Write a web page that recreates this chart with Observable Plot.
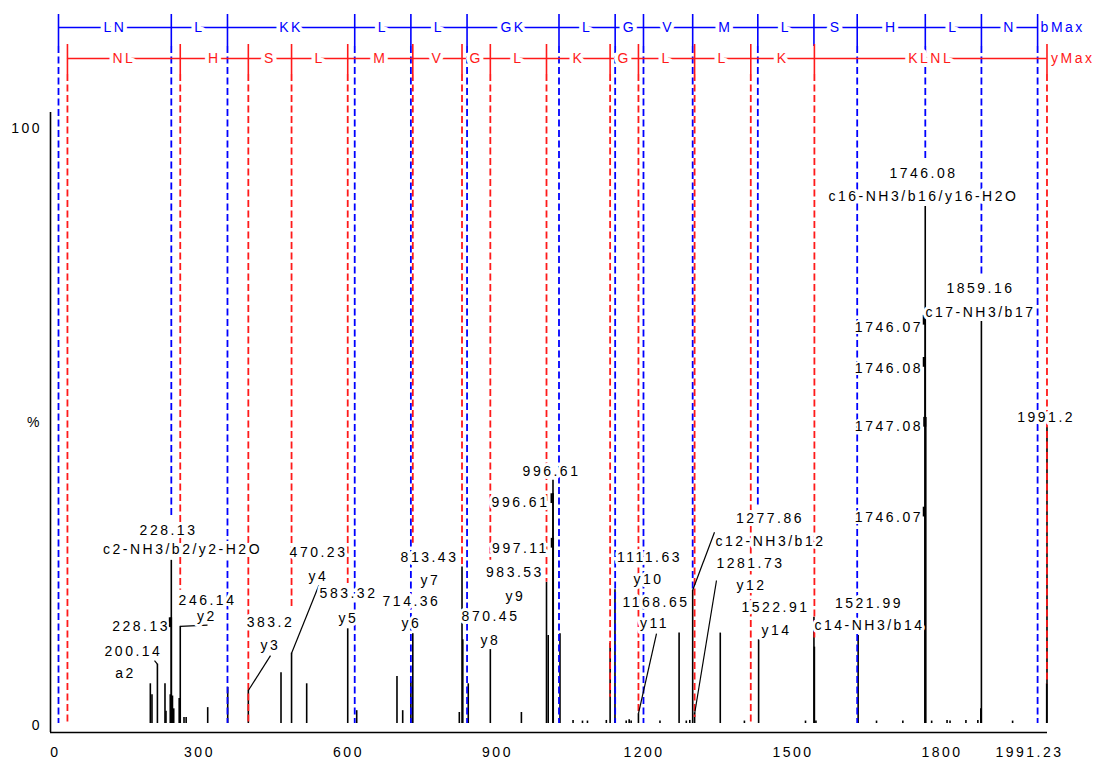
<!DOCTYPE html>
<html><head><meta charset="utf-8">
<script src="https://cdn.jsdelivr.net/npm/d3@7"></script>
<script src="https://cdn.jsdelivr.net/npm/@observablehq/plot@0.6"></script>
<style>
html,body{margin:0;padding:0;background:#fff;}
#chart svg text{letter-spacing:2.5px;}
</style></head><body><div id="chart"></div>
<script>
// ---- spectrum peaks (m/z, relative intensity %) ----
const peakMz = [185.9, 189.2, 200.14, 215.4, 217.4, 226.0, 228.13, 228.13, 230.5, 233.0, 244.0, 246.14, 253.7, 258.0, 301.4, 341.7, 383.2, 449.0, 470.23, 500.7, 583.32, 601.4, 682.5, 694.0, 710.5, 714.36, 808.0, 813.43, 815.0, 826.0, 870.45, 933.0, 983.53, 987.0, 996.61, 996.61, 997.11, 1010.7, 1037, 1056, 1066, 1104, 1111.63, 1121.4, 1144, 1150, 1154, 1168.65, 1212, 1250.5, 1265, 1272, 1277.86, 1281.73, 1333.4, 1382, 1410.6, 1505, 1521.99, 1522.91, 1526, 1611, 1648, 1701, 1746.08, 1746.07, 1746.08, 1747.08, 1746.07, 1759, 1790, 1796, 1828, 1852, 1858.0, 1859.16, 1922, 1990.6, 1991.2];
const peakInt = [6.5, 4.7, 9.7, 6.5, 2.0, 4.7, 17.3, 26.7, 4.5, 2.4, 4.1, 15.9, 1.0, 1.0, 2.6, 5.9, 5.4, 8.3, 11.5, 6.5, 15.5, 2.1, 7.7, 2.1, 6.8, 14.7, 1.8, 25.6, 13.7, 6.5, 12.1, 1.8, 23.1, 14.4, 39.8, 37.6, 30.3, 14.7, 0.5, 0.4, 0.4, 0.5, 13.1, 21.9, 0.4, 0.6, 0.4, 1.6, 0.4, 14.8, 0.4, 0.5, 21.8, 1.7, 14.8, 0.4, 13.7, 0.4, 17.4, 12.5, 0.4, 14.4, 0.4, 0.4, 84.6, 66.8, 59.9, 50.1, 35.4, 0.4, 0.5, 0.4, 0.5, 0.5, 2.4, 65.8, 0.4, 6.5, 48.5];

// sub-peaks marked with a short bold tick on the line
const markMz  = [228.13, 996.61, 997.11, 1746.07, 1746.08, 1747.08, 1746.07];
const markInt = [17.3, 37.6, 30.3, 66.8, 59.9, 50.1, 35.4];

// ---- fragment ladders ----
const bIons = [1.01, 228.13, 341.22, 597.41, 710.49, 823.58, 1008.70, 1121.78, 1178.80, 1277.87, 1409.0, 1522.0, 1609.1, 1746.2, 1859.2, 1972.3];
const bResidues = ["LN","L","KK","L","L","GK","L","G","V","M","L","S","H","L","N"];
const bDashEnd = [0, 33.7, 0, 0, 0, 0, 0, 0, 0, 21.8, 35.4, null, 0, 92.0, 73.3, 0];
const yIons = [19.02, 246.14, 383.2, 470.23, 583.32, 714.36, 813.43, 870.45, 983.53, 1111.63, 1168.65, 1281.73, 1394.82, 1522.91, 1991.2];
const yResidues = ["NL","H","S","L","M","V","G","L","K","G","L","L","K","KLNL"];
const yDashEnd = [0, 21.8, 0, 18.8, 22.9, 29.5, 25.6, 26.7, 23.1, 4.3, 1.6, 1.0, 0, 13.6, 6.5];

// ---- peak annotations ----
const labelText = ["228.13","c2-NH3/b2/y2-H2O","246.14","y2","200.14","a2","383.2","y3","470.23","y4","583.32","y5","714.36","y6","813.43","y7","870.45","y8","983.53","y9","997.11","996.61","996.61","1111.63","y10","1168.65","y11","1277.86","c12-NH3/b12","1281.73","y12","1522.91","y14","1521.99","c14-NH3/b14","1746.08","c16-NH3/b16/y16-H2O","1859.16","c17-NH3/b17","1991.2"];
const labelMz   = [222.5, 250.7, 301.0, 300.0, 152.0, 135.9, 427.8, 427.8, 524.5, 524.5, 584.9, 584.9, 711.7, 711.7, 748.0, 750.0, 870.8, 870.8, 920.1, 921.1, 931.2, 931.2, 993.6, 1190.9, 1188.9, 1204.0, 1201.0, 1433.5, 1434.5, 1394.2, 1396.2, 1444.6, 1446.6, 1632.8, 1633.8, 1742.5, 1742.5, 1857.3, 1857.3, 1989.5];
const labelPct  = [31.6, 28.5, 20.1, 17.5, 11.8, 8.2, 16.5, 12.8, 28.0, 24.1, 21.3, 17.2, 20.0, 16.4, 27.2, 23.4, 17.5, 13.6, 24.7, 20.8, 28.6, 36.2, 41.2, 27.2, 23.6, 19.8, 16.4, 33.6, 29.8, 26.2, 22.6, 19.0, 15.2, 19.6, 16.0, 90.0, 86.3, 71.2, 67.3, 50.1];
// right-aligned annotations beside a peak
const sideText = ["228.13","1746.07","1746.08","1747.08","1746.07"];
const sideMz   = [225.5, 1741.5, 1741.5, 1741.5, 1741.5];
const sidePct  = [15.9, 64.8, 58.1, 48.6, 33.7];

// leader lines from annotation to peak
const leadFromMz = [246.14, 194.3, 427.8, 525.1, 1205.0, 1321.8, 1325.8];
const leadFromPct = [15.9, 10.3, 11.1, 22.6, 14.7, 31.3, 23.4];
const leadToMz = [301.0, 200.14, 383.2, 470.23, 1168.65, 1277.86, 1281.73];
const leadToPct = [16.1, 9.7, 5.4, 11.5, 1.6, 21.8, 1.6];

// axes
const xTicks = [0, 300, 600, 900, 1200, 1500, 1800, 1991.23];
const xTickLabels = ["0","300","600","900","1200","1500","1800","1991.23"];
const yTicks = [0, 50, 100];
const yTickLabels = ["0","%","100"];
const yLabelDy = [2, 5, 16];

// ladder rows (in % units above the 100% top)
const LAD = {bLine: 113.91, bTop: 116.04, bBot: 110.80, yLine: 108.84, yTop: 111.13, yBot: 106.22};
const BLUE = "#0000ff", RED = "#ff1a1a";

const peaks = peakMz.map((mz, i) => ({mz, v: peakInt[i]}));
const marks = markMz.map((mz, i) => ({mz, v: markInt[i]}));
const bDash = bIons.map((mz, i) => ({mz, end: bDashEnd[i]})).filter(d => d.end != null);
const yDash = yIons.map((mz, i) => ({mz, end: yDashEnd[i]}));
const labels = labelText.map((t, i) => ({t, x: labelMz[i], y: labelPct[i]}));
const sides = sideText.map((t, i) => ({t, x: sideMz[i], y: sidePct[i]}));
const leaders = leadFromMz.map((m, i) => ({x1: m, y1: leadFromPct[i], x2: leadToMz[i], y2: leadToPct[i]}));
const dash = "7,3.5";
const halo = {stroke: "white", strokeWidth: 6, paintOrder: "stroke", strokeLinejoin: "round"};
const sideHalo = {stroke: "white", strokeWidth: 4, paintOrder: "stroke", strokeLinejoin: "round"};
const ladderHalo = {stroke: "white", strokeWidth: 8, paintOrder: "stroke", strokeLinejoin: "round"};

const chart = Plot.plot({
  width: 1097, height: 760,
  marginLeft: 50, marginRight: 50, marginTop: 112, marginBottom: 28,
  x: {domain: [0, 1991.23], range: [57.5, 1046.5], axis: null},
  y: {domain: [0, 100], range: [723, 112], axis: null},
  style: {fontFamily: "'Liberation Sans', Arial, sans-serif", fontSize: "14px", background: "white", overflow: "visible", color: "black"},
  marks: [
    // peaks
    Plot.ruleX(peaks, {x: "mz", y1: 0, y2: "v", stroke: "black", strokeWidth: 1.6}),
    // ladder drop lines
    Plot.ruleX(bDash, {x: "mz", y1: LAD.bBot, y2: "end", stroke: BLUE, strokeWidth: 1.8, strokeDasharray: dash}),
    Plot.ruleX(yDash, {x: "mz", y1: LAD.yBot, y2: "end", stroke: RED, strokeWidth: 1.8, strokeDasharray: dash}),
    // bold sub-peak ticks
    Plot.ruleX(marks, {x: "mz", y1: d => d.v - 1.6, y2: "v", stroke: "black", strokeWidth: 3, dx: -1}),
    // leaders
    Plot.link(leaders, {x1: "x1", y1: "y1", x2: "x2", y2: "y2", stroke: "black", strokeWidth: 1.2}),
    // annotations
    Plot.text(labels, {x: "x", y: "y", text: "t", fill: "black", textAnchor: "middle", ...halo}),
    Plot.text(sides, {x: "x", y: "y", text: "t", fill: "black", textAnchor: "end", ...sideHalo}),
    // b ladder
    Plot.ruleY([LAD.bLine], {y: d => d, x1: bIons[0], x2: bIons[bIons.length - 1], stroke: BLUE, strokeWidth: 1.6}),
    Plot.ruleX(bIons, {x: d => d, y1: LAD.bBot, y2: LAD.bTop, stroke: BLUE, strokeWidth: 1.6}),
    Plot.text(bResidues, {x: (d, i) => (bIons[i] + bIons[i + 1]) / 2, y: () => LAD.bLine, text: d => d, fill: BLUE, textAnchor: "middle", ...ladderHalo}),
    Plot.text(["bMax"], {x: () => bIons[bIons.length - 1], y: () => LAD.bLine, text: d => d, fill: BLUE, textAnchor: "start", dx: 3}),
    // y ladder
    Plot.ruleY([LAD.yLine], {y: d => d, x1: yIons[0], x2: yIons[yIons.length - 1], stroke: RED, strokeWidth: 1.6}),
    Plot.ruleX(yIons, {x: d => d, y1: LAD.yBot, y2: LAD.yTop, stroke: RED, strokeWidth: 1.6}),
    Plot.text(yResidues, {x: (d, i) => (yIons[i] + yIons[i + 1]) / 2, y: () => LAD.yLine, text: d => d, fill: RED, textAnchor: "middle", ...ladderHalo}),
    Plot.text(["yMax"], {x: () => yIons[yIons.length - 1], y: () => LAD.yLine, text: d => d, fill: RED, textAnchor: "start", dx: 4}),
    // axes
    Plot.ruleX([0], {dx: -7.5, stroke: "black", strokeWidth: 1.6}),
    Plot.ruleY([0], {dy: 9, stroke: "black", strokeWidth: 1.6}),
    Plot.ruleY(yTicks, {y: d => d, x2: 0, stroke: "black", strokeWidth: 1.5}),
    Plot.ruleX(xTicks, {x: d => d, y1: 0, stroke: "black", strokeWidth: 1.5}),
    ...xTicks.map((t, i) => Plot.text([xTickLabels[i]], {x: () => t, frameAnchor: "bottom", dy: 24, text: d => d, fill: "black", textAnchor: "middle", dx: -(xTickLabels[i].length * 2.5)})),
    ...yTicks.map((t, i) => Plot.text([yTickLabels[i]], {y: () => t, frameAnchor: "left", dx: -8.5, dy: yLabelDy[i], text: d => d, fill: "black", textAnchor: "end"}))
  ]
});
document.getElementById("chart").appendChild(chart);
</script></body></html>
